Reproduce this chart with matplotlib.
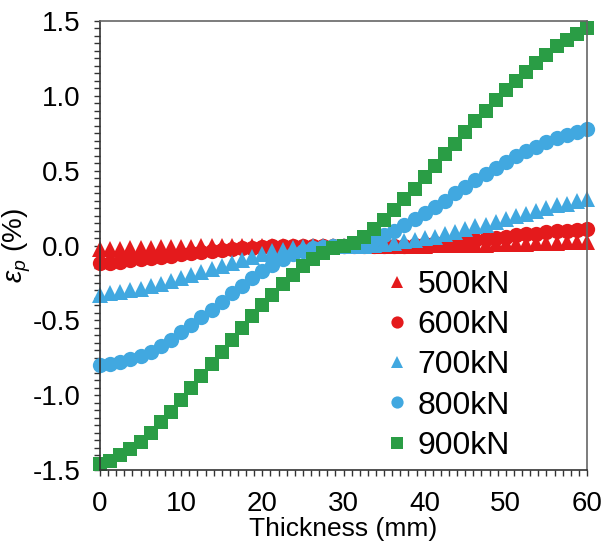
import numpy as np
import matplotlib
matplotlib.use("Agg")
import matplotlib.pyplot as plt
from matplotlib.ticker import MultipleLocator, FormatStrFormatter

plt.rcParams['font.family'] = ['Liberation Sans', 'DejaVu Sans']
plt.rcParams['mathtext.fontset'] = 'custom'
plt.rcParams['mathtext.it'] = 'Liberation Sans:italic'
plt.rcParams['mathtext.rm'] = 'Liberation Sans'

thickness = np.linspace(0, 60, 49)

labels = ["500kN", "600kN", "700kN", "800kN", "900kN"]

eps_500 = [-0.025, -0.023, -0.021, -0.019, -0.017, -0.015, -0.013, -0.011, -0.009,
           -0.008, -0.006, -0.005, -0.004, -0.003, -0.002, -0.001, 0.0,
           0, 0, 0, 0, 0, 0, 0, 0, 0, 0, 0, 0, 0, 0, 0,
           0.0, 0.001, 0.002, 0.003, 0.004, 0.005, 0.006, 0.008, 0.009,
           0.011, 0.013, 0.015, 0.017, 0.019, 0.021, 0.023, 0.025]

eps_600 = [-0.12, -0.115, -0.11, -0.10, -0.09, -0.085, -0.08, -0.07, -0.06,
           -0.05, -0.045, -0.04, -0.03, -0.025, -0.02, -0.015, -0.01, -0.005,
           0, 0, 0, 0, 0, 0, 0, 0, 0, 0, 0, 0, 0,
           0.005, 0.01, 0.015, 0.02, 0.025, 0.03, 0.04, 0.045, 0.05, 0.06,
           0.07, 0.075, 0.08, 0.09, 0.095, 0.10, 0.105, 0.11]

eps_700 = [-0.33, -0.32, -0.31, -0.30, -0.29, -0.27, -0.26, -0.24, -0.22,
           -0.20, -0.18, -0.16, -0.14, -0.12, -0.10, -0.08, -0.06, -0.04,
           -0.03, -0.02, -0.01, -0.005, 0, 0, 0, 0, 0, 0.005, 0.01, 0.02,
           0.03, 0.04, 0.05, 0.06, 0.08, 0.09, 0.11, 0.13, 0.14, 0.16, 0.18,
           0.20, 0.21, 0.23, 0.25, 0.27, 0.28, 0.30, 0.31]

eps_800 = [-0.80, -0.79, -0.78, -0.76, -0.74, -0.71, -0.67, -0.63, -0.58,
           -0.53, -0.48, -0.43, -0.38, -0.32, -0.27, -0.22, -0.17, -0.13,
           -0.09, -0.06, -0.04, -0.02, -0.01, 0.00, 0.00, 0.01, 0.02, 0.04,
           0.07, 0.10, 0.14, 0.18, 0.22, 0.26, 0.30, 0.35, 0.39, 0.44, 0.48,
           0.52, 0.56, 0.60, 0.63, 0.66, 0.69, 0.72, 0.74, 0.76, 0.78]

eps_900 = [-1.46, -1.44, -1.40, -1.36, -1.31, -1.25, -1.18, -1.11, -1.03,
           -0.95, -0.87, -0.79, -0.71, -0.63, -0.55, -0.47, -0.40, -0.33,
           -0.26, -0.20, -0.14, -0.09, -0.05, -0.02, 0.00, 0.02, 0.06, 0.11,
           0.17, 0.24, 0.31, 0.38, 0.46, 0.53, 0.61, 0.68, 0.76, 0.83, 0.90,
           0.97, 1.04, 1.10, 1.16, 1.22, 1.27, 1.33, 1.37, 1.41, 1.45]

series = [eps_500, eps_600, eps_700, eps_800, eps_900]
colors = ["#E41A1C", "#E41A1C", "#41A8E0", "#41A8E0", "#2A9D45"]
markers = ["^", "o", "^", "o", "s"]
msizes = [11.5, 11, 11.5, 11, 10.5]

W, H = 604, 546
fig = plt.figure(figsize=(W / 100, H / 100), dpi=100)
left, right, top, bottom = 100, 587, 21, 470
ax = fig.add_axes([left / W, 1 - bottom / H, (right - left) / W, (bottom - top) / H])

handles = []
for y, c, m, ms, lab in zip(series, colors, markers, msizes, labels):
    h, = ax.plot(thickness, y, linestyle='none', marker=m, markersize=ms,
                 color=c, markeredgewidth=0, label=lab, clip_on=False)
    handles.append(h)

ax.set_xlim(0, 60)
ax.set_ylim(-1.5, 1.5)
ax.xaxis.set_major_locator(MultipleLocator(10))
ax.xaxis.set_minor_locator(MultipleLocator(1))
ax.yaxis.set_major_locator(MultipleLocator(0.5))
ax.yaxis.set_minor_locator(MultipleLocator(0.05))
ax.yaxis.set_major_formatter(FormatStrFormatter('%.1f'))

ax.tick_params(which='both', direction='out', labelsize=20, color='#333333',
               length=4, width=1)
ax.tick_params(axis='x', pad=11)
ax.tick_params(axis='y', pad=10)

for s in ['left', 'bottom']:
    ax.spines[s].set_color('#333333')
    ax.spines[s].set_linewidth(1.2)
for s in ['top', 'right']:
    ax.spines[s].set_color('#666666')
    ax.spines[s].set_linewidth(1.2)

ax.set_xlabel("Thickness (mm)", fontsize=19, labelpad=0)
ax.set_ylabel(r"$\varepsilon_p$ (%)", fontsize=20, labelpad=0)

leg = fig.legend(handles=handles, loc='upper left',
                 bbox_to_anchor=(384 / W, 1 - 270 / H),
                 bbox_transform=fig.transFigure, frameon=False,
                 fontsize=23, handlelength=0.8, handletextpad=0.25,
                 labelspacing=0.32, markerscale=0.8, borderpad=0,
                 borderaxespad=0)

fig.savefig("out.png", dpi=100)
